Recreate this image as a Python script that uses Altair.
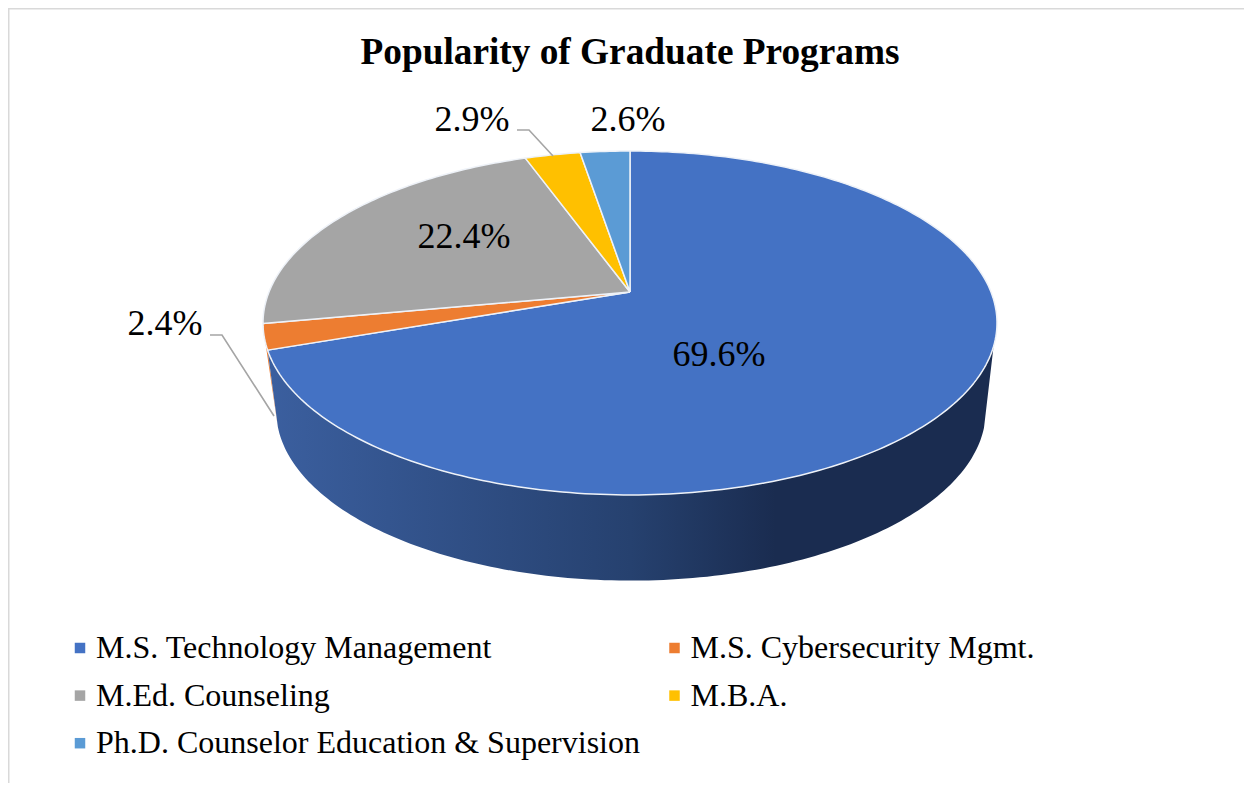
import numpy as np
import pandas as pd
import altair as alt

# ---- chart values -------------------------------------------------------
programs = ["M.S. Technology Management", "M.S. Cybersecurity Mgmt.", "M.Ed. Counseling",
            "M.B.A.", "Ph.D. Counselor Education & Supervision"]
shares = [69.6, 2.4, 22.4, 2.9, 2.6]
colors = ["#4472c4", "#ed7d31", "#a5a5a5", "#ffc000", "#5b9bd5"]
title_text = "Popularity of Graduate Programs"

# ---- layout (page pixels minus the 8px page margin) ---------------------
W, H = 1236, 775
SERIF = "Liberation Serif"
label_xy = [(711, 347), (157, 316), (456, 229), (464, 112), (620, 112)]
leaders = {1: [(202, 327), (214, 327), (266, 408)], 3: [(509, 122), (521, 122), (545, 148)]}

# perspective disc: angle -> screen point, for the top and the bottom rim
def rim(theta, x0, y0, w, k, c=0.18):
    t = np.radians(theta)
    u, v = np.sin(t), np.cos(t)
    d = 1 + c * v
    return x0 + w * u / d, y0 - k * v / d

TOP = (622, 284, 361, 166.4)
BOT = (623, 372, 349, 164.5)

def arc(a, b, disc, step=1.0):
    n = max(2, int(abs(b - a) / step) + 2)
    return [rim(t, *disc) for t in np.linspace(a, b, n)]

edges = np.concatenate([[0], np.cumsum(shares)]) / sum(shares) * 360

wedge_rows = []
for name, a, b in zip(programs, edges[:-1], edges[1:]):
    pts = [(TOP[0], TOP[1])] + arc(a, b, TOP) + [(TOP[0], TOP[1])]
    wedge_rows += [{"program": name, "i": i, "x": p[0], "y": p[1]} for i, p in enumerate(pts)]
wedges = pd.DataFrame(wedge_rows)

def poly(pts):
    pts = pts + [pts[0]]
    return pd.DataFrame([{"i": i, "x": p[0], "y": p[1]} for i, p in enumerate(pts)])

blue_end = edges[1]
wall_blue = poly(arc(108, blue_end, TOP) + arc(blue_end + 3.4, 106, BOT))
wall_orange = poly(arc(blue_end, blue_end + 2.6, TOP) + arc(blue_end + 3.4, blue_end + 3.4, BOT)[:1])

X = alt.X("x:Q", axis=None, scale=alt.Scale(domain=[0, W], range=[0, W], nice=False, zero=False))
Y = alt.Y("y:Q", axis=None, scale=alt.Scale(domain=[0, H], range=[0, H], nice=False, zero=False))
ORDER = alt.Order("i:Q")

side_gradient = alt.Gradient(
    gradient="linear", x1=0, x2=1, y1=0, y2=0,
    stops=[alt.GradientStop(offset=0, color="#3b5f9f"),
           alt.GradientStop(offset=0.5, color="#26416f"),
           alt.GradientStop(offset=0.7, color="#1a2c50"),
           alt.GradientStop(offset=1, color="#1a2c50")],
)

frame = (alt.Chart(pd.DataFrame({"x": [W, 0, 0], "y": [0, 0, H], "i": [0, 1, 2]}))
         .mark_line(stroke="#d9d9d9", strokeWidth=3)
         .encode(x=X, y=Y, order=ORDER))

side_o = alt.Chart(wall_orange).mark_line(fill="#ed7d31", strokeWidth=0).encode(x=X, y=Y, order=ORDER)
side_b = alt.Chart(wall_blue).mark_line(fill=side_gradient, strokeWidth=0).encode(x=X, y=Y, order=ORDER)

top = (alt.Chart(wedges)
       .mark_line(stroke="#eef2f8", strokeWidth=1.5, strokeJoin="round")
       .encode(x=X, y=Y, order=ORDER,
               fill=alt.Fill("program:N",
                             scale=alt.Scale(domain=programs, range=colors),
                             sort=programs,
                             legend=alt.Legend(
                                 title=None, orient="none", legendX=56, legendY=624,
                                 columns=2, direction="horizontal", symbolType="square", symbolSize=110,
                                 symbolStrokeWidth=0, labelFont=SERIF, labelFontSize=32,
                                 labelColor="#000000", labelLimit=700, labelOffset=0,
                                 rowPadding=15.6, columnPadding=18.5))))

leader_rows = [{"k": k, "i": i, "x": p[0], "y": p[1]} for k, pts in leaders.items() for i, p in enumerate(pts)]
lead = (alt.Chart(pd.DataFrame(leader_rows))
        .mark_line(stroke="#a5a5a5", strokeWidth=1.6)
        .encode(x=X, y=Y, order=ORDER, detail="k:N"))

labels = pd.DataFrame({"x": [p[0] for p in label_xy], "y": [p[1] for p in label_xy],
                       "label": [f"{v:.1f}%" for v in shares]})
text = (alt.Chart(labels)
        .mark_text(font=SERIF, fontSize=36, color="#000000", align="center", baseline="middle")
        .encode(x=X, y=Y, text="label:N"))

chart = (alt.layer(frame, side_o, side_b, top, lead, text)
         .properties(width=W, height=H, padding=0,
                     autosize=alt.AutoSizeParams(type="none"),
                     title=alt.TitleParams(title_text, font=SERIF, fontSize=37.3, fontWeight="bold",
                                           color="#000000", anchor="middle", dx=4, dy=74))
         .configure_view(strokeWidth=0)
         .configure(background="white"))

chart.save("out.html", embed_options={"renderer": "svg", "actions": False})
